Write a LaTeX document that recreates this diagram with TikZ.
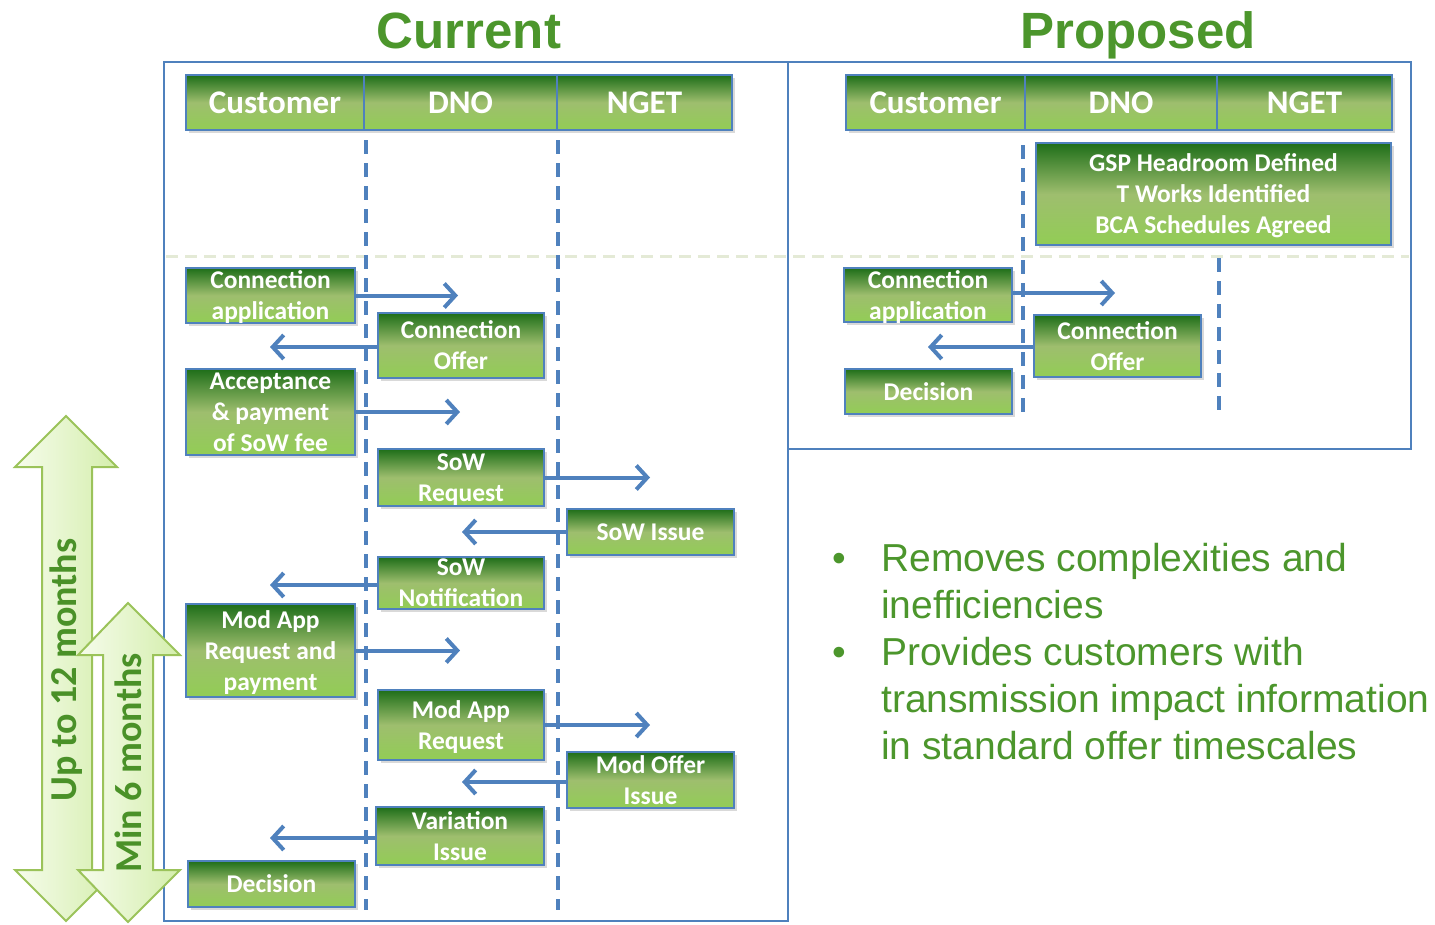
\documentclass[tikz,border=0pt]{standalone}
\usepackage{fontspec}
\setmainfont{Liberation Sans}
\newfontfamily\calfont{Carlito}
\usetikzlibrary{arrows.meta,shadows}
\definecolor{bblue}{RGB}{79,129,189}
\definecolor{gdark}{RGB}{30,110,25}
\definecolor{gmid}{RGB}{158,190,110}
\definecolor{glight}{RGB}{146,205,85}
\definecolor{ttl}{RGB}{76,150,44}
\definecolor{sepc}{RGB}{228,234,214}
\definecolor{afillA}{RGB}{246,252,236}
\definecolor{afillB}{RGB}{212,238,172}
\definecolor{aline}{RGB}{155,195,90}
\definecolor{atext}{RGB}{74,145,40}
\tikzset{
  gbox/.style={draw=bblue, line width=2.5pt, top color=gdark, bottom color=glight, middle color=gmid,
    text=white, font=\calfont\bfseries\fontsize{25.5}{31}\selectfont, align=center, inner sep=0pt,
    text depth=0pt,
    drop shadow={shadow xshift=3pt, shadow yshift=-3pt, opacity=0.3}},
  hbox/.style={gbox, font=\calfont\bfseries\fontsize{33}{38}\selectfont},
  lifeline/.style={draw=bblue, line width=3.5pt, dash pattern=on 14pt off 9pt},
  frame/.style={draw=bblue, line width=2pt},
  msg/.style={draw=bblue, line width=4pt, -{Straight Barb[length=11pt,width=24pt]}},
  title/.style={font=\bfseries\fontsize{51}{60}\selectfont, text=ttl, anchor=base, inner sep=0pt},
  bullet/.style={font=\fontsize{39}{46}\selectfont, text=ttl, anchor=base west, inner sep=0pt},
  bigarrow/.style={draw=aline, line width=2pt, left color=afillA, right color=afillB},
  atxt/.style={font=\calfont\bfseries\fontsize{38}{44}\selectfont, text=atext, rotate=90, inner sep=0pt}
}
\begin{document}
\begin{tikzpicture}[x=1pt,y=-1pt]
\useasboundingbox (0,0) rectangle (1435,924);

% titles
\node[title] (tcur) at (469,48) {Current};
\node[title] (tprop) at (1138,48) {Proposed};

% frames
\draw[frame] (164,62) rectangle (788,921);
\draw[frame] (788,62) rectangle (1411,449);

% separator
\draw[draw=sepc, line width=3pt, dash pattern=on 12pt off 7pt] (166,256) -- (1409,256);

% lifelines
\coordinate (l1a) at (366,140); \coordinate (l1b) at (366,910);
\coordinate (l2a) at (558,140); \coordinate (l2b) at (558,910);
\coordinate (l3a) at (1023,145); \coordinate (l3b) at (1023,416);
\coordinate (l4a) at (1219,258); \coordinate (l4b) at (1219,416);
\draw[lifeline] (l1a) -- (l1b);
\draw[lifeline] (l2a) -- (l2b);
\draw[lifeline] (l3a) -- (l3b);
\draw[lifeline] (l4a) -- (l4b);

% big arrows
\draw[bigarrow] (66,416) -- (117,467) -- (92,467) -- (92,870) -- (117,870) -- (66,921) -- (15,870) -- (42,870) -- (42,467) -- (15,467) -- cycle;
\node[atxt] (up12) at (66,670) {Up to 12 months};
\draw[bigarrow] (128,603) -- (180,655) -- (153,655) -- (153,870) -- (180,870) -- (128,922) -- (78,870) -- (103,870) -- (103,655) -- (78,655) -- cycle;
\node[atxt] (min6) at (128,763) {Min 6 months};

% current headers
\node[hbox, minimum width=178pt, minimum height=55pt] (hcust) at (275,102.5) {Customer};
\node[hbox, minimum width=193pt, minimum height=55pt] (hdno) at (460.5,102.5) {DNO};
\node[hbox, minimum width=175pt, minimum height=55pt] (hnget) at (644.5,102.5) {NGET};

% current boxes
\node[gbox, minimum width=169pt, minimum height=55pt] (ca) at (270.5,295.5) {Connection\\application};
\node[gbox, minimum width=166pt, minimum height=65pt] (co) at (461,345.5) {Connection\\Offer};
\node[gbox, minimum width=169pt, minimum height=86pt] (acc) at (270.5,412) {Acceptance\\\& payment\\of SoW fee};
\node[gbox, minimum width=166pt, minimum height=57pt] (sowr) at (461,477.5) {SoW\\Request};
\node[gbox, minimum width=167pt, minimum height=46pt] (sowi) at (650.5,532) {SoW Issue};
\node[gbox, minimum width=166pt, minimum height=52pt] (sown) at (461,583) {SoW\\Notification};
\node[gbox, minimum width=169pt, minimum height=93pt] (mod1) at (270.5,650.5) {Mod App\\Request and\\payment};
\node[gbox, minimum width=166pt, minimum height=70pt] (mod2) at (461,725) {Mod App\\Request};
\node[gbox, minimum width=167pt, minimum height=56pt] (modo) at (650.5,780) {Mod Offer\\Issue};
\node[gbox, minimum width=168pt, minimum height=58pt] (var) at (460,836) {Variation\\Issue};
\node[gbox, minimum width=167pt, minimum height=46pt] (dec) at (271.5,884) {Decision};

% current arrows
\coordinate (a1) at (458,295.5);
\coordinate (a2) at (270,347);
\coordinate (a3) at (460,412);
\coordinate (a4) at (650,477.5);
\coordinate (a5) at (462,532);
\coordinate (a6) at (270,585);
\coordinate (a7) at (460,650.5);
\coordinate (a8) at (650,725);
\coordinate (a9) at (462,782);
\coordinate (a10) at (270,838);
\draw[msg] (ca.east) -- (a1);
\draw[msg] (co.west |- a2) -- (a2);
\draw[msg] (acc.east) -- (a3);
\draw[msg] (sowr.east) -- (a4);
\draw[msg] (sowi.west) -- (a5);
\draw[msg] (sown.west |- a6) -- (a6);
\draw[msg] (mod1.east) -- (a7);
\draw[msg] (mod2.east) -- (a8);
\draw[msg] (modo.west |- a9) -- (a9);
\draw[msg] (var.west |- a10) -- (a10);

% proposed headers
\node[hbox, minimum width=179pt, minimum height=55pt] (phcust) at (935.5,102.5) {Customer};
\node[hbox, minimum width=192pt, minimum height=55pt] (phdno) at (1121,102.5) {DNO};
\node[hbox, minimum width=175pt, minimum height=55pt] (phnget) at (1304.5,102.5) {NGET};

% proposed boxes
\node[gbox, minimum width=355pt, minimum height=102pt] (gsp) at (1213.5,194) {GSP Headroom Defined\\T Works Identified\\BCA Schedules Agreed};
\node[gbox, minimum width=168pt, minimum height=54pt] (pca) at (928,295) {Connection\\application};
\node[gbox, minimum width=167pt, minimum height=62pt] (pco) at (1117.5,346) {Connection\\Offer};
\node[gbox, minimum width=167pt, minimum height=45pt] (pdec) at (928.5,391.5) {Decision};

\coordinate (p1) at (1115,293);
\coordinate (p2) at (928,347);
\draw[msg] (pca.east |- p1) -- (p1);
\draw[msg] (pco.west |- p2) -- (p2);

% bullets
\node[bullet] (b1) at (832,571) {•};
\node[bullet] (t1) at (881,571) {Removes complexities and};
\node[bullet] (t2) at (881,618) {inefficiencies};
\node[bullet] (b2) at (832,665) {•};
\node[bullet] (t3) at (881,665) {Provides customers with};
\node[bullet] (t4) at (881,712) {transmission impact information};
\node[bullet] (t5) at (881,759) {in standard offer timescales};
\end{tikzpicture}
\end{document}
